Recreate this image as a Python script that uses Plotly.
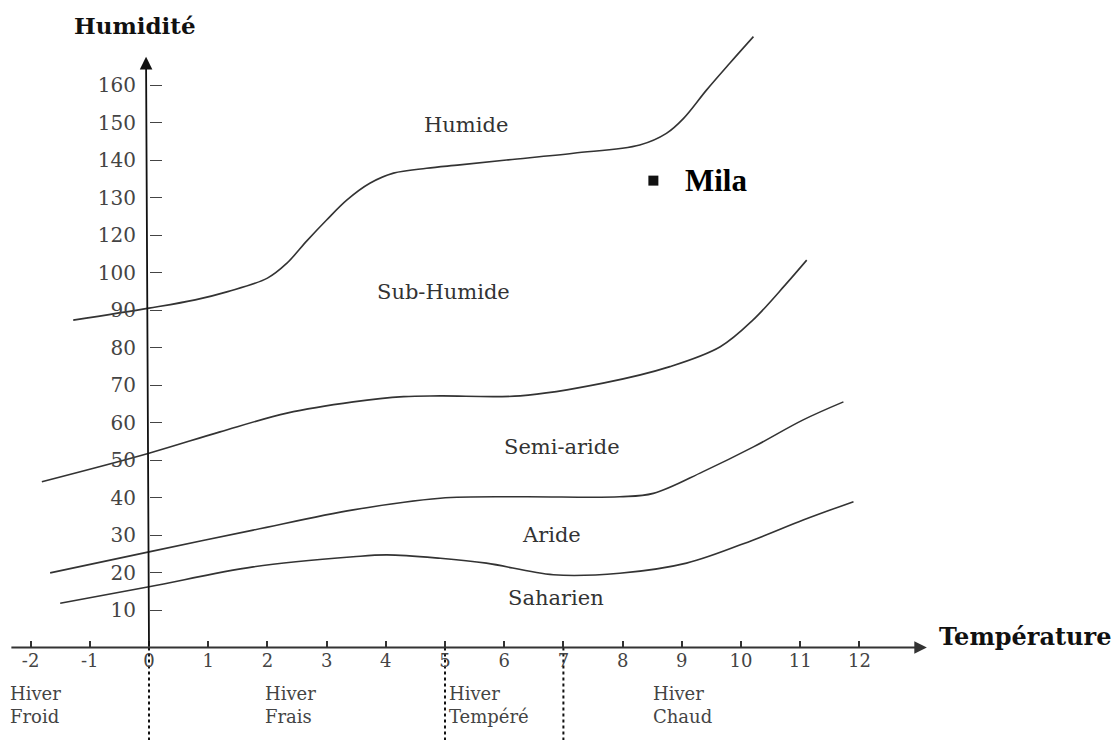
import plotly.graph_objects as go

# ---- data (axis units: x = temperature m, y = position on the Q2 axis) ----
x_ticks = [-2, -1, 0, 1, 2, 3, 4, 5, 6, 7, 8, 9, 10, 11, 12]
y_tick_pos = [10, 20, 30, 40, 50, 60, 70, 80, 90, 100, 110, 120, 130, 140, 150]
y_tick_text = ["10", "20", "30", "40", "50", "60", "70", "80", "90", "100",
               "120", "130", "140", "150", "160"]

humide_x = [-1.28, 0.0, 0.78, 1.33, 2.0, 2.33, 2.67, 3.0, 3.34, 3.73, 4.13, 4.69,
            5.25, 6.04, 7.17, 8.29, 8.74, 9.03, 9.42, 9.81, 10.21]
humide_y = [87.3, 90.5, 92.7, 94.9, 98.5, 102.5, 108.5, 114.0, 119.3, 123.8, 126.5,
            127.8, 128.7, 130.0, 131.8, 134.0, 137.1, 141.1, 148.7, 155.8, 162.9]

subhum_x = [-1.81, 0.0, 1.2, 2.33, 3.45, 4.3, 4.92, 6.27, 7.67, 8.8, 9.65, 10.2,
            10.77, 11.11]
subhum_y = [44.2, 51.8, 57.5, 62.5, 65.5, 66.9, 67.1, 67.1, 70.5, 74.9, 80.2, 87.3,
            97.1, 103.3]

semiar_x = [-1.67, 0.0, 1.76, 3.45, 4.92, 6.27, 7.95, 8.52, 9.36, 10.21, 11.05, 11.73]
semiar_y = [19.9, 25.5, 31.3, 36.7, 39.8, 40.2, 40.2, 41.1, 46.9, 53.5, 60.7, 65.5]

aride_x = [-1.5, 0.0, 1.76, 3.45, 4.02, 4.92, 5.7, 6.83, 7.95, 9.08, 10.21, 11.05, 11.9]
aride_y = [11.8, 16.2, 21.5, 24.2, 24.7, 23.8, 22.5, 19.4, 19.8, 22.5, 28.7, 34.0, 38.9]

winter_bounds = [0, 5, 7]
winter_names = ["Hiver<br>Froid", "Hiver<br>Frais", "Hiver<br>Tempéré", "Hiver<br>Chaud"]
winter_label_x = [-2.38, 1.93, 5.03, 8.48]

zone_names = ["Humide", "Sub-Humide", "Semi-aride", "Aride", "Saharien"]
zone_label_x = [5.35, 4.97, 6.98, 6.8, 6.88]
zone_label_y = [139.3, 94.8, 53.5, 30.0, 13.2]

station_name = ["Mila"]
station_x = [8.52]
station_y = [124.5]

# ---- figure ----
W, H = 1118, 740
px_per_x = 59.2
px_per_y = 3.75
x0_px, y0_px = 149, 647.5
x_range = [-x0_px / px_per_x, (W - x0_px) / px_per_x]
y_range = [(y0_px - H) / px_per_y, y0_px / px_per_y]

fig = go.Figure()

curve_style = dict(color="#333333", width=1.6, shape="spline", smoothing=1.0)
for cx, cy in [(humide_x, humide_y), (subhum_x, subhum_y),
               (semiar_x, semiar_y), (aride_x, aride_y)]:
    fig.add_trace(go.Scatter(x=cx, y=cy, mode="lines", line=curve_style,
                             hoverinfo="skip", showlegend=False))

for b in winter_bounds:
    fig.add_trace(go.Scatter(x=[b, b], y=[0, y_range[0] - 5], mode="lines",
                             line=dict(color="#111", width=2, dash="dot"),
                             hoverinfo="skip", showlegend=False))

fig.add_trace(go.Scatter(x=station_x, y=station_y, mode="markers",
                         marker=dict(symbol="square", size=10, color="#111"),
                         showlegend=False, hoverinfo="skip"))

serif = "DejaVu Serif"

# axes arrows
fig.add_annotation(x=13.14, y=0, ax=-2.35, ay=0, axref="x", ayref="y",
                   xref="x", yref="y", text="", showarrow=True, arrowhead=2,
                   arrowsize=1.4, arrowwidth=1.8, arrowcolor="#333", standoff=0)
fig.add_annotation(x=-0.05, y=157.5, ax=0, ay=0, axref="x", ayref="y",
                   xref="x", yref="y", text="", showarrow=True, arrowhead=2,
                   arrowsize=1.4, arrowwidth=1.8, arrowcolor="#111", standoff=0)

# axis titles
fig.add_annotation(x=-0.24, y=166, xref="x", yref="y", text="<b>Humidité</b>",
                   showarrow=False, font=dict(family=serif, size=23, color="#111"))
fig.add_annotation(x=13.31, y=3.0, xref="x", yref="y", text="<b>Température</b>",
                   showarrow=False, xanchor="left",
                   font=dict(family=serif, size=24, color="#111"))

# zone labels
for name, zx, zy in zip(zone_names, zone_label_x, zone_label_y):
    fig.add_annotation(x=zx, y=zy, xref="x", yref="y", text=name, showarrow=False,
                       font=dict(family=serif, size=21, color="#333"))

# winter labels
for name, wx in zip(winter_names, winter_label_x):
    fig.add_annotation(x=wx, y=-15.3, xref="x", yref="y", text=name, showarrow=False,
                       xanchor="left", align="left",
                       font=dict(family=serif, size=18, color="#444"))

# station label
fig.add_annotation(x=station_x[0] + 0.5, y=station_y[0], xref="x", yref="y",
                   text="<b>" + station_name[0] + "</b>", showarrow=False,
                   xanchor="left",
                   font=dict(family="Liberation Serif", size=31, color="#000"))

fig.update_layout(
    width=W, height=H,
    margin=dict(l=0, r=0, t=0, b=0),
    paper_bgcolor="white", plot_bgcolor="white",
    showlegend=False,
    xaxis=dict(range=x_range, domain=[0, 1], anchor="free",
               position=(H - y0_px) / H,
               tickvals=x_ticks, ticktext=[str(v) for v in x_ticks],
               ticks="inside", ticklen=7, tickwidth=1.5, tickcolor="#333",
               showline=False, showgrid=False, zeroline=False,
               tickfont=dict(family=serif, size=18, color="#444"),
               fixedrange=True),
    yaxis=dict(range=y_range, domain=[0, 1], anchor="free",
               position=x0_px / W,
               tickvals=y_tick_pos, ticktext=y_tick_text,
               ticks="inside", ticklen=12, tickwidth=1.3, tickcolor="#444",
               ticklabelstandoff=13,
               showline=False, showgrid=False, zeroline=False,
               tickfont=dict(family=serif, size=20, color="#444"),
               fixedrange=True),
)

fig.write_html("out.html", config={"displayModeBar": False},
               post_script="document.body.style.margin='0';document.body.style.padding='0';")
